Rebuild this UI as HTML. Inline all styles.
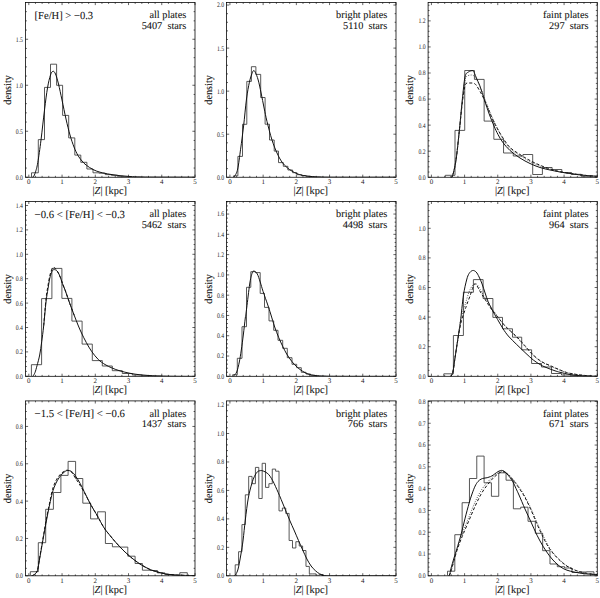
<!DOCTYPE html>
<html><head><meta charset="utf-8"><style>html,body{margin:0;padding:0;background:#fff;width:600px;height:598px;overflow:hidden}svg{display:block}text{font-family:"Liberation Serif",serif;text-rendering:geometricPrecision}</style></head><body>
<svg width="600" height="598" viewBox="0 0 600 598">
<rect width="600" height="598" fill="#fff"/>
<path d="M28.82 177.25v-2.6M28.82 2.5v2.6M35.47 177.25v-1.4M35.47 2.5v1.4M42.12 177.25v-1.4M42.12 2.5v1.4M48.76 177.25v-1.4M48.76 2.5v1.4M55.41 177.25v-1.4M55.41 2.5v1.4M62.06 177.25v-2.6M62.06 2.5v2.6M68.71 177.25v-1.4M68.71 2.5v1.4M75.35 177.25v-1.4M75.35 2.5v1.4M82 177.25v-1.4M82 2.5v1.4M88.65 177.25v-1.4M88.65 2.5v1.4M95.29 177.25v-2.6M95.29 2.5v2.6M101.94 177.25v-1.4M101.94 2.5v1.4M108.59 177.25v-1.4M108.59 2.5v1.4M115.24 177.25v-1.4M115.24 2.5v1.4M121.88 177.25v-1.4M121.88 2.5v1.4M128.53 177.25v-2.6M128.53 2.5v2.6M135.18 177.25v-1.4M135.18 2.5v1.4M141.82 177.25v-1.4M141.82 2.5v1.4M148.47 177.25v-1.4M148.47 2.5v1.4M155.12 177.25v-1.4M155.12 2.5v1.4M161.76 177.25v-2.6M161.76 2.5v2.6M168.41 177.25v-1.4M168.41 2.5v1.4M175.06 177.25v-1.4M175.06 2.5v1.4M181.71 177.25v-1.4M181.71 2.5v1.4M188.35 177.25v-1.4M188.35 2.5v1.4M195 177.25v-2.6M195 2.5v2.6M25.5 177.25h2.6M195 177.25h-2.6M25.5 168.05h1.4M195 168.05h-1.4M25.5 158.85h1.4M195 158.85h-1.4M25.5 149.65h1.4M195 149.65h-1.4M25.5 140.45h1.4M195 140.45h-1.4M25.5 131.25h2.6M195 131.25h-2.6M25.5 122.05h1.4M195 122.05h-1.4M25.5 112.85h1.4M195 112.85h-1.4M25.5 103.65h1.4M195 103.65h-1.4M25.5 94.45h1.4M195 94.45h-1.4M25.5 85.25h2.6M195 85.25h-2.6M25.5 76.05h1.4M195 76.05h-1.4M25.5 66.85h1.4M195 66.85h-1.4M25.5 57.65h1.4M195 57.65h-1.4M25.5 48.45h1.4M195 48.45h-1.4M25.5 39.25h2.6M195 39.25h-2.6M25.5 30.05h1.4M195 30.05h-1.4M25.5 20.85h1.4M195 20.85h-1.4M25.5 11.65h1.4M195 11.65h-1.4" stroke="#222" stroke-width="0.7" fill="none"/>
<rect x="25.5" y="2.5" width="169.5" height="174.75" fill="none" stroke="#000" stroke-width="0.78"/>
<g font-size="7" fill="#222" font-family="Liberation Serif, serif"><text x="28.82" y="183.95" text-anchor="middle">0</text><text x="62.06" y="183.95" text-anchor="middle">1</text><text x="95.29" y="183.95" text-anchor="middle">2</text><text x="128.53" y="183.95" text-anchor="middle">3</text><text x="161.76" y="183.95" text-anchor="middle">4</text><text x="195" y="183.95" text-anchor="middle">5</text><text x="23" y="179.65" text-anchor="end" textLength="7.2" lengthAdjust="spacingAndGlyphs">0.0</text><text x="23" y="133.65" text-anchor="end" textLength="7.2" lengthAdjust="spacingAndGlyphs">0.5</text><text x="23" y="87.65" text-anchor="end" textLength="7.2" lengthAdjust="spacingAndGlyphs">1.0</text><text x="23" y="41.65" text-anchor="end" textLength="7.2" lengthAdjust="spacingAndGlyphs">1.5</text></g>
<text x="109.75" y="194.05" font-size="10.6" text-anchor="middle" fill="#111" stroke="#111" stroke-width="0.08" font-family="Liberation Serif, serif" textLength="34.5" lengthAdjust="spacingAndGlyphs">|<tspan font-style="italic">Z</tspan>| [kpc]</text>
<text transform="translate(10.8 89.88) rotate(-90)" font-size="10.6" text-anchor="middle" fill="#111" stroke="#111" stroke-width="0.08" font-family="Liberation Serif, serif" textLength="29.6" lengthAdjust="spacingAndGlyphs">density</text>
<text x="34.6" y="19" font-size="10.8" fill="#111" stroke="#111" stroke-width="0.08" font-family="Liberation Serif, serif" textLength="58.5" lengthAdjust="spacingAndGlyphs">[Fe/H] &gt; −0.3</text>
<text x="186.3" y="18.1" font-size="10.3" text-anchor="end" fill="#111" stroke="#111" stroke-width="0.08" font-family="Liberation Serif, serif">all plates</text>
<text x="186.3" y="28.8" font-size="10.3" text-anchor="end" fill="#111" stroke="#111" stroke-width="0.08" font-family="Liberation Serif, serif" xml:space="preserve">5407  stars</text>
<clipPath id="c00"><rect x="25.5" y="2.5" width="169.5" height="174.75"/></clipPath>
<g clip-path="url(#c00)"><path d="M31.5 177.25V172.8H38.3V139.6H44.5V87.4H50.5V64.2H56.6V85.3H62.6V115.4H68.7V137.9H74.8V155.1H80.8V162.3H86.9V169H93V172.8H99.1V173.2H105.2V174.6H111.3V175.3H117.4V176.3H123.5V176.8H129.6V177.25" stroke="#3a3a3a" stroke-width="0.85" fill="none"/><path d="M32 177.2C32.23 177.13 32.82 177.67 33.4 176.8C33.98 175.93 34.77 174.38 35.5 172C36.23 169.62 36.88 167.83 37.8 162.5C38.72 157.17 39.88 148.75 41 140C42.12 131.25 43.42 118.67 44.5 110C45.58 101.33 46.5 93.83 47.5 88C48.5 82.17 49.58 77.78 50.5 75C51.42 72.22 52.17 71.47 53 71.3C53.83 71.13 54.58 71.88 55.5 74C56.42 76.12 57.42 79.67 58.5 84C59.58 88.33 60.75 94.17 62 100C63.25 105.83 64.67 113.17 66 119C67.33 124.83 68.67 130.33 70 135C71.33 139.67 72.67 143.58 74 147C75.33 150.42 76.67 153.17 78 155.5C79.33 157.83 80.62 159.38 82 161C83.38 162.62 84.47 163.78 86.3 165.2C88.13 166.62 90.72 168.33 93 169.5C95.28 170.67 97.17 171.4 100 172.2C102.83 173 106.67 173.72 110 174.3C113.33 174.88 116.67 175.33 120 175.7C123.33 176.07 126.67 176.3 130 176.5C133.33 176.7 135.83 176.8 140 176.9C144.17 177 146 177.05 155 177.1C164 177.15 187.5 177.18 194 177.2" stroke="#111" stroke-width="1.0" fill="none"/></g>
<path d="M229.92 177.25v-2.6M229.92 2.5v2.6M236.56 177.25v-1.4M236.56 2.5v1.4M243.21 177.25v-1.4M243.21 2.5v1.4M249.85 177.25v-1.4M249.85 2.5v1.4M256.49 177.25v-1.4M256.49 2.5v1.4M263.14 177.25v-2.6M263.14 2.5v2.6M269.78 177.25v-1.4M269.78 2.5v1.4M276.42 177.25v-1.4M276.42 2.5v1.4M283.07 177.25v-1.4M283.07 2.5v1.4M289.71 177.25v-1.4M289.71 2.5v1.4M296.35 177.25v-2.6M296.35 2.5v2.6M303 177.25v-1.4M303 2.5v1.4M309.64 177.25v-1.4M309.64 2.5v1.4M316.28 177.25v-1.4M316.28 2.5v1.4M322.93 177.25v-1.4M322.93 2.5v1.4M329.57 177.25v-2.6M329.57 2.5v2.6M336.21 177.25v-1.4M336.21 2.5v1.4M342.85 177.25v-1.4M342.85 2.5v1.4M349.5 177.25v-1.4M349.5 2.5v1.4M356.14 177.25v-1.4M356.14 2.5v1.4M362.78 177.25v-2.6M362.78 2.5v2.6M369.43 177.25v-1.4M369.43 2.5v1.4M376.07 177.25v-1.4M376.07 2.5v1.4M382.71 177.25v-1.4M382.71 2.5v1.4M389.36 177.25v-1.4M389.36 2.5v1.4M396 177.25v-2.6M396 2.5v2.6M226.6 177.25h2.6M396 177.25h-2.6M226.6 168.64h1.4M396 168.64h-1.4M226.6 160.03h1.4M396 160.03h-1.4M226.6 151.42h1.4M396 151.42h-1.4M226.6 142.81h1.4M396 142.81h-1.4M226.6 134.2h2.6M396 134.2h-2.6M226.6 125.59h1.4M396 125.59h-1.4M226.6 116.98h1.4M396 116.98h-1.4M226.6 108.37h1.4M396 108.37h-1.4M226.6 99.76h1.4M396 99.76h-1.4M226.6 91.15h2.6M396 91.15h-2.6M226.6 82.54h1.4M396 82.54h-1.4M226.6 73.93h1.4M396 73.93h-1.4M226.6 65.32h1.4M396 65.32h-1.4M226.6 56.71h1.4M396 56.71h-1.4M226.6 48.1h2.6M396 48.1h-2.6M226.6 39.49h1.4M396 39.49h-1.4M226.6 30.88h1.4M396 30.88h-1.4M226.6 22.27h1.4M396 22.27h-1.4M226.6 13.66h1.4M396 13.66h-1.4M226.6 5.05h2.6M396 5.05h-2.6" stroke="#222" stroke-width="0.7" fill="none"/>
<rect x="226.6" y="2.5" width="169.4" height="174.75" fill="none" stroke="#000" stroke-width="0.78"/>
<g font-size="7" fill="#222" font-family="Liberation Serif, serif"><text x="229.92" y="183.95" text-anchor="middle">0</text><text x="263.14" y="183.95" text-anchor="middle">1</text><text x="296.35" y="183.95" text-anchor="middle">2</text><text x="329.57" y="183.95" text-anchor="middle">3</text><text x="362.78" y="183.95" text-anchor="middle">4</text><text x="396" y="183.95" text-anchor="middle">5</text><text x="224.1" y="179.65" text-anchor="end" textLength="7.2" lengthAdjust="spacingAndGlyphs">0.0</text><text x="224.1" y="136.6" text-anchor="end" textLength="7.2" lengthAdjust="spacingAndGlyphs">0.5</text><text x="224.1" y="93.55" text-anchor="end" textLength="7.2" lengthAdjust="spacingAndGlyphs">1.0</text><text x="224.1" y="50.5" text-anchor="end" textLength="7.2" lengthAdjust="spacingAndGlyphs">1.5</text><text x="224.1" y="7.45" text-anchor="end" textLength="7.2" lengthAdjust="spacingAndGlyphs">2.0</text></g>
<text x="310.8" y="194.05" font-size="10.6" text-anchor="middle" fill="#111" stroke="#111" stroke-width="0.08" font-family="Liberation Serif, serif" textLength="34.5" lengthAdjust="spacingAndGlyphs">|<tspan font-style="italic">Z</tspan>| [kpc]</text>
<text transform="translate(211.9 89.88) rotate(-90)" font-size="10.6" text-anchor="middle" fill="#111" stroke="#111" stroke-width="0.08" font-family="Liberation Serif, serif" textLength="29.6" lengthAdjust="spacingAndGlyphs">density</text>
<text x="387.3" y="18.1" font-size="10.3" text-anchor="end" fill="#111" stroke="#111" stroke-width="0.08" font-family="Liberation Serif, serif">bright plates</text>
<text x="387.3" y="28.8" font-size="10.3" text-anchor="end" fill="#111" stroke="#111" stroke-width="0.08" font-family="Liberation Serif, serif" xml:space="preserve">5110  stars</text>
<clipPath id="c01"><rect x="226.6" y="2.5" width="169.4" height="174.75"/></clipPath>
<g clip-path="url(#c01)"><path d="M233.6 177.25V175.8H237.9V156.4H242.5V124.3H246.8V81.4H251.4V66.7H255.9V74.4H260.7V97.5H265.1V124.2H269.5V140H274.2V151.1H278.5V162.6H283.3V166.3H287.9V170H292.6V172.7H296.9V174.7H301.5V175.6H306V176.3H310.5V176.8H315V177.25" stroke="#3a3a3a" stroke-width="0.85" fill="none"/><path d="M233.5 177.2C233.72 177 234.1 177.37 234.8 176C235.5 174.63 236.73 173.47 237.7 169C238.67 164.53 239.62 156.37 240.6 149.2C241.58 142.03 242.62 134.37 243.6 126C244.58 117.63 245.53 106.3 246.5 99C247.47 91.7 248.48 86.45 249.4 82.2C250.32 77.95 251.3 75.43 252 73.5C252.7 71.57 253.05 70.8 253.6 70.6C254.15 70.4 254.53 70.73 255.3 72.3C256.07 73.87 257.23 76.55 258.2 80C259.17 83.45 260.12 88.33 261.1 93C262.08 97.67 263.12 103.25 264.1 108C265.08 112.75 265.68 116.17 267 121.5C268.32 126.83 270.33 134.75 272 140C273.67 145.25 275.33 149.32 277 153C278.67 156.68 280.32 159.67 282 162.1C283.68 164.53 285.42 166.08 287.1 167.6C288.78 169.12 290.43 170.18 292.1 171.2C293.77 172.22 295.45 173.03 297.1 173.7C298.75 174.37 299.85 174.75 302 175.2C304.15 175.65 307 176.12 310 176.4C313 176.68 315.83 176.77 320 176.9C324.17 177.03 322.5 177.15 335 177.2C347.5 177.25 385 177.2 395 177.2" stroke="#111" stroke-width="1.0" fill="none"/></g>
<path d="M431.42 177.25v-2.6M431.42 2.5v2.6M438.05 177.25v-1.4M438.05 2.5v1.4M444.68 177.25v-1.4M444.68 2.5v1.4M451.32 177.25v-1.4M451.32 2.5v1.4M457.95 177.25v-1.4M457.95 2.5v1.4M464.58 177.25v-2.6M464.58 2.5v2.6M471.22 177.25v-1.4M471.22 2.5v1.4M477.85 177.25v-1.4M477.85 2.5v1.4M484.48 177.25v-1.4M484.48 2.5v1.4M491.12 177.25v-1.4M491.12 2.5v1.4M497.75 177.25v-2.6M497.75 2.5v2.6M504.38 177.25v-1.4M504.38 2.5v1.4M511.02 177.25v-1.4M511.02 2.5v1.4M517.65 177.25v-1.4M517.65 2.5v1.4M524.28 177.25v-1.4M524.28 2.5v1.4M530.92 177.25v-2.6M530.92 2.5v2.6M537.55 177.25v-1.4M537.55 2.5v1.4M544.18 177.25v-1.4M544.18 2.5v1.4M550.82 177.25v-1.4M550.82 2.5v1.4M557.45 177.25v-1.4M557.45 2.5v1.4M564.08 177.25v-2.6M564.08 2.5v2.6M570.72 177.25v-1.4M570.72 2.5v1.4M577.35 177.25v-1.4M577.35 2.5v1.4M583.98 177.25v-1.4M583.98 2.5v1.4M590.62 177.25v-1.4M590.62 2.5v1.4M597.25 177.25v-2.6M597.25 2.5v2.6M428.1 177.25h2.6M597.25 177.25h-2.6M428.1 172.04h1.4M597.25 172.04h-1.4M428.1 166.83h1.4M597.25 166.83h-1.4M428.1 161.61h1.4M597.25 161.61h-1.4M428.1 156.4h1.4M597.25 156.4h-1.4M428.1 151.19h2.6M597.25 151.19h-2.6M428.1 145.98h1.4M597.25 145.98h-1.4M428.1 140.77h1.4M597.25 140.77h-1.4M428.1 135.55h1.4M597.25 135.55h-1.4M428.1 130.34h1.4M597.25 130.34h-1.4M428.1 125.13h2.6M597.25 125.13h-2.6M428.1 119.92h1.4M597.25 119.92h-1.4M428.1 114.71h1.4M597.25 114.71h-1.4M428.1 109.49h1.4M597.25 109.49h-1.4M428.1 104.28h1.4M597.25 104.28h-1.4M428.1 99.07h2.6M597.25 99.07h-2.6M428.1 93.86h1.4M597.25 93.86h-1.4M428.1 88.65h1.4M597.25 88.65h-1.4M428.1 83.43h1.4M597.25 83.43h-1.4M428.1 78.22h1.4M597.25 78.22h-1.4M428.1 73.01h2.6M597.25 73.01h-2.6M428.1 67.8h1.4M597.25 67.8h-1.4M428.1 62.59h1.4M597.25 62.59h-1.4M428.1 57.37h1.4M597.25 57.37h-1.4M428.1 52.16h1.4M597.25 52.16h-1.4M428.1 46.95h2.6M597.25 46.95h-2.6M428.1 41.74h1.4M597.25 41.74h-1.4M428.1 36.53h1.4M597.25 36.53h-1.4M428.1 31.31h1.4M597.25 31.31h-1.4M428.1 26.1h1.4M597.25 26.1h-1.4M428.1 20.89h2.6M597.25 20.89h-2.6M428.1 15.68h1.4M597.25 15.68h-1.4M428.1 10.47h1.4M597.25 10.47h-1.4M428.1 5.25h1.4M597.25 5.25h-1.4" stroke="#222" stroke-width="0.7" fill="none"/>
<rect x="428.1" y="2.5" width="169.15" height="174.75" fill="none" stroke="#000" stroke-width="0.78"/>
<g font-size="7" fill="#222" font-family="Liberation Serif, serif"><text x="431.42" y="183.95" text-anchor="middle">0</text><text x="464.58" y="183.95" text-anchor="middle">1</text><text x="497.75" y="183.95" text-anchor="middle">2</text><text x="530.92" y="183.95" text-anchor="middle">3</text><text x="564.08" y="183.95" text-anchor="middle">4</text><text x="597.25" y="183.95" text-anchor="middle">5</text><text x="425.6" y="179.65" text-anchor="end" textLength="7.2" lengthAdjust="spacingAndGlyphs">0.0</text><text x="425.6" y="153.59" text-anchor="end" textLength="7.2" lengthAdjust="spacingAndGlyphs">0.2</text><text x="425.6" y="127.53" text-anchor="end" textLength="7.2" lengthAdjust="spacingAndGlyphs">0.4</text><text x="425.6" y="101.47" text-anchor="end" textLength="7.2" lengthAdjust="spacingAndGlyphs">0.6</text><text x="425.6" y="75.41" text-anchor="end" textLength="7.2" lengthAdjust="spacingAndGlyphs">0.8</text><text x="425.6" y="49.35" text-anchor="end" textLength="7.2" lengthAdjust="spacingAndGlyphs">1.0</text><text x="425.6" y="23.29" text-anchor="end" textLength="7.2" lengthAdjust="spacingAndGlyphs">1.2</text></g>
<text x="512.17" y="194.05" font-size="10.6" text-anchor="middle" fill="#111" stroke="#111" stroke-width="0.08" font-family="Liberation Serif, serif" textLength="34.5" lengthAdjust="spacingAndGlyphs">|<tspan font-style="italic">Z</tspan>| [kpc]</text>
<text transform="translate(413.4 89.88) rotate(-90)" font-size="10.6" text-anchor="middle" fill="#111" stroke="#111" stroke-width="0.08" font-family="Liberation Serif, serif" textLength="29.6" lengthAdjust="spacingAndGlyphs">density</text>
<text x="588.55" y="18.1" font-size="10.3" text-anchor="end" fill="#111" stroke="#111" stroke-width="0.08" font-family="Liberation Serif, serif">faint plates</text>
<text x="588.55" y="28.8" font-size="10.3" text-anchor="end" fill="#111" stroke="#111" stroke-width="0.08" font-family="Liberation Serif, serif" xml:space="preserve">297  stars</text>
<clipPath id="c02"><rect x="428.1" y="2.5" width="169.15" height="174.75"/></clipPath>
<g clip-path="url(#c02)"><path d="M445.3 177.25V175.3H455.01V130.4H464.72V70.5H474.43V79.4H484.14V121.1H493.85V139.3H503.56V153H513.27V156H522.98V154.5H532.69V174.5H542.4V167.5H552.11V169.5H561.82V172.5H571.53V174.3H581.24V176.3H590.95V177.25" stroke="#3a3a3a" stroke-width="0.85" fill="none"/><path d="M450.5 177.2C450.83 177 451.58 178.87 452.5 176C453.42 173.13 454.87 167.5 456 160C457.13 152.5 458.25 141 459.3 131C460.35 121 461.35 109 462.3 100C463.25 91 463.98 81.67 465 77C466.02 72.33 467.07 73.05 468.4 72C469.73 70.95 471.97 70.45 473 70.7C474.03 70.95 474.03 72.28 474.6 73.5C475.17 74.72 475.55 76.02 476.4 78C477.25 79.98 478.7 82.83 479.7 85.4C480.7 87.97 481.55 90.8 482.4 93.4C483.25 96 483.67 97.57 484.8 101C485.93 104.43 487.67 109.83 489.2 114C490.73 118.17 492.53 122.58 494 126C495.47 129.42 496.55 131.8 498 134.5C499.45 137.2 500.7 139.53 502.7 142.2C504.7 144.87 507.12 147.87 510 150.5C512.88 153.13 516.67 155.83 520 158C523.33 160.17 526.67 161.92 530 163.5C533.33 165.08 536.67 166.42 540 167.5C543.33 168.58 546.67 169.25 550 170C553.33 170.75 556.67 171.4 560 172C563.33 172.6 566.67 173.12 570 173.6C573.33 174.08 576.67 174.53 580 174.9C583.33 175.27 587.17 175.57 590 175.8C592.83 176.03 595.83 176.22 597 176.3" stroke="#111" stroke-width="1.0" fill="none"/><path d="M450.5 177.2C450.83 177 451.58 178.87 452.5 176C453.42 173.13 454.87 167.5 456 160C457.13 152.5 458.25 140.5 459.3 131C460.35 121.5 461.43 110.17 462.3 103C463.17 95.83 463.88 91.25 464.5 88C465.12 84.75 465.08 84.33 466 83.5C466.92 82.67 468.72 83.03 470 83C471.28 82.97 472.63 82.9 473.7 83.3C474.77 83.7 475.28 83.93 476.4 85.4C477.52 86.87 479.22 90 480.4 92.1C481.58 94.2 482.4 95.68 483.5 98C484.6 100.32 485.58 102.67 487 106C488.42 109.33 490.33 114.33 492 118C493.67 121.67 495.17 124.67 497 128C498.83 131.33 500.83 134.75 503 138C505.17 141.25 507.17 144.75 510 147.5C512.83 150.25 516.67 152.33 520 154.5C523.33 156.67 526.67 158.72 530 160.5C533.33 162.28 536.67 163.78 540 165.2C543.33 166.62 546.67 167.93 550 169C553.33 170.07 556.67 170.87 560 171.6C563.33 172.33 566.67 172.87 570 173.4C573.33 173.93 576.67 174.4 580 174.8C583.33 175.2 587.17 175.55 590 175.8C592.83 176.05 595.83 176.22 597 176.3" stroke="#111" stroke-width="1.0" fill="none" stroke-dasharray="3 2"/><path d="M450.5 177.2C450.83 177 451.58 178.87 452.5 176C453.42 173.13 454.87 167.5 456 160C457.13 152.5 458.25 141 459.3 131C460.35 121 461.38 108.17 462.3 100C463.22 91.83 464.1 85.92 464.8 82C465.5 78.08 465.35 77.67 466.5 76.5C467.65 75.33 470.37 75 471.7 75C473.03 75 473.62 75.67 474.5 76.5C475.38 77.33 476.08 78.33 477 80C477.92 81.67 479 84.17 480 86.5C481 88.83 482 91.42 483 94C484 96.58 484.83 99 486 102C487.17 105 488.5 108.42 490 112C491.5 115.58 492.88 119.08 495 123.5C497.12 127.92 500.2 134.33 502.7 138.5C505.2 142.67 507.12 145.67 510 148.5C512.88 151.33 516.67 153.33 520 155.5C523.33 157.67 526.67 159.75 530 161.5C533.33 163.25 536.67 164.67 540 166C543.33 167.33 546.67 168.53 550 169.5C553.33 170.47 556.67 171.13 560 171.8C563.33 172.47 566.67 173 570 173.5C573.33 174 576.67 174.42 580 174.8C583.33 175.18 587.17 175.55 590 175.8C592.83 176.05 595.83 176.22 597 176.3" stroke="#333" stroke-width="0.9" fill="none" stroke-dasharray="0.9 1.4"/></g>
<path d="M28.82 376.3v-2.6M28.82 201.4v2.6M35.47 376.3v-1.4M35.47 201.4v1.4M42.12 376.3v-1.4M42.12 201.4v1.4M48.76 376.3v-1.4M48.76 201.4v1.4M55.41 376.3v-1.4M55.41 201.4v1.4M62.06 376.3v-2.6M62.06 201.4v2.6M68.71 376.3v-1.4M68.71 201.4v1.4M75.35 376.3v-1.4M75.35 201.4v1.4M82 376.3v-1.4M82 201.4v1.4M88.65 376.3v-1.4M88.65 201.4v1.4M95.29 376.3v-2.6M95.29 201.4v2.6M101.94 376.3v-1.4M101.94 201.4v1.4M108.59 376.3v-1.4M108.59 201.4v1.4M115.24 376.3v-1.4M115.24 201.4v1.4M121.88 376.3v-1.4M121.88 201.4v1.4M128.53 376.3v-2.6M128.53 201.4v2.6M135.18 376.3v-1.4M135.18 201.4v1.4M141.82 376.3v-1.4M141.82 201.4v1.4M148.47 376.3v-1.4M148.47 201.4v1.4M155.12 376.3v-1.4M155.12 201.4v1.4M161.76 376.3v-2.6M161.76 201.4v2.6M168.41 376.3v-1.4M168.41 201.4v1.4M175.06 376.3v-1.4M175.06 201.4v1.4M181.71 376.3v-1.4M181.71 201.4v1.4M188.35 376.3v-1.4M188.35 201.4v1.4M195 376.3v-2.6M195 201.4v2.6M25.5 376.3h2.6M195 376.3h-2.6M25.5 371.42h1.4M195 371.42h-1.4M25.5 366.54h1.4M195 366.54h-1.4M25.5 361.66h1.4M195 361.66h-1.4M25.5 356.78h1.4M195 356.78h-1.4M25.5 351.9h2.6M195 351.9h-2.6M25.5 347.02h1.4M195 347.02h-1.4M25.5 342.14h1.4M195 342.14h-1.4M25.5 337.26h1.4M195 337.26h-1.4M25.5 332.38h1.4M195 332.38h-1.4M25.5 327.5h2.6M195 327.5h-2.6M25.5 322.62h1.4M195 322.62h-1.4M25.5 317.74h1.4M195 317.74h-1.4M25.5 312.86h1.4M195 312.86h-1.4M25.5 307.98h1.4M195 307.98h-1.4M25.5 303.1h2.6M195 303.1h-2.6M25.5 298.22h1.4M195 298.22h-1.4M25.5 293.34h1.4M195 293.34h-1.4M25.5 288.46h1.4M195 288.46h-1.4M25.5 283.58h1.4M195 283.58h-1.4M25.5 278.7h2.6M195 278.7h-2.6M25.5 273.82h1.4M195 273.82h-1.4M25.5 268.94h1.4M195 268.94h-1.4M25.5 264.06h1.4M195 264.06h-1.4M25.5 259.18h1.4M195 259.18h-1.4M25.5 254.3h2.6M195 254.3h-2.6M25.5 249.42h1.4M195 249.42h-1.4M25.5 244.54h1.4M195 244.54h-1.4M25.5 239.66h1.4M195 239.66h-1.4M25.5 234.78h1.4M195 234.78h-1.4M25.5 229.9h2.6M195 229.9h-2.6M25.5 225.02h1.4M195 225.02h-1.4M25.5 220.14h1.4M195 220.14h-1.4M25.5 215.26h1.4M195 215.26h-1.4M25.5 210.38h1.4M195 210.38h-1.4M25.5 205.5h2.6M195 205.5h-2.6" stroke="#222" stroke-width="0.7" fill="none"/>
<rect x="25.5" y="201.4" width="169.5" height="174.9" fill="none" stroke="#000" stroke-width="0.78"/>
<g font-size="7" fill="#222" font-family="Liberation Serif, serif"><text x="28.82" y="383" text-anchor="middle">0</text><text x="62.06" y="383" text-anchor="middle">1</text><text x="95.29" y="383" text-anchor="middle">2</text><text x="128.53" y="383" text-anchor="middle">3</text><text x="161.76" y="383" text-anchor="middle">4</text><text x="195" y="383" text-anchor="middle">5</text><text x="23" y="378.7" text-anchor="end" textLength="7.2" lengthAdjust="spacingAndGlyphs">0.0</text><text x="23" y="354.3" text-anchor="end" textLength="7.2" lengthAdjust="spacingAndGlyphs">0.2</text><text x="23" y="329.9" text-anchor="end" textLength="7.2" lengthAdjust="spacingAndGlyphs">0.4</text><text x="23" y="305.5" text-anchor="end" textLength="7.2" lengthAdjust="spacingAndGlyphs">0.6</text><text x="23" y="281.1" text-anchor="end" textLength="7.2" lengthAdjust="spacingAndGlyphs">0.8</text><text x="23" y="256.7" text-anchor="end" textLength="7.2" lengthAdjust="spacingAndGlyphs">1.0</text><text x="23" y="232.3" text-anchor="end" textLength="7.2" lengthAdjust="spacingAndGlyphs">1.2</text><text x="23" y="207.9" text-anchor="end" textLength="7.2" lengthAdjust="spacingAndGlyphs">1.4</text></g>
<text x="109.75" y="393.1" font-size="10.6" text-anchor="middle" fill="#111" stroke="#111" stroke-width="0.08" font-family="Liberation Serif, serif" textLength="34.5" lengthAdjust="spacingAndGlyphs">|<tspan font-style="italic">Z</tspan>| [kpc]</text>
<text transform="translate(10.8 288.85) rotate(-90)" font-size="10.6" text-anchor="middle" fill="#111" stroke="#111" stroke-width="0.08" font-family="Liberation Serif, serif" textLength="29.6" lengthAdjust="spacingAndGlyphs">density</text>
<text x="34.6" y="217.9" font-size="10.8" fill="#111" stroke="#111" stroke-width="0.08" font-family="Liberation Serif, serif" textLength="90.4" lengthAdjust="spacingAndGlyphs">−0.6 &lt; [Fe/H] &lt; −0.3</text>
<text x="186.3" y="217" font-size="10.3" text-anchor="end" fill="#111" stroke="#111" stroke-width="0.08" font-family="Liberation Serif, serif">all plates</text>
<text x="186.3" y="227.7" font-size="10.3" text-anchor="end" fill="#111" stroke="#111" stroke-width="0.08" font-family="Liberation Serif, serif" xml:space="preserve">5462  stars</text>
<clipPath id="c10"><rect x="25.5" y="201.4" width="169.5" height="174.9"/></clipPath>
<g clip-path="url(#c10)"><path d="M31.4 376.3V364.7H41.6V298.6H51.9V268.4H61.9V298.4H71.9V321.1H82.1V344.1H92.3V360.6H102.3V366H112.3V370.7H122.3V373.5H132.3V375H142.3V375.8H152.3V376.2H162.3V376.3" stroke="#3a3a3a" stroke-width="0.85" fill="none"/><path d="M32 376.4C32.17 376.35 32.5 376.75 33 376.1C33.5 375.45 34.33 374.23 35 372.5C35.67 370.77 36.22 368.62 37 365.7C37.78 362.78 38.92 359 39.7 355C40.48 351 41.03 346.58 41.7 341.7C42.37 336.82 42.98 332.32 43.7 325.7C44.42 319.08 45.28 308.15 46 302C46.72 295.85 47.38 292.68 48 288.8C48.62 284.92 49.13 281.38 49.7 278.7C50.27 276.02 50.88 274.12 51.4 272.7C51.92 271.28 52.3 270.72 52.8 270.2C53.3 269.68 53.8 269.57 54.4 269.6C55 269.63 55.73 269.83 56.4 270.4C57.07 270.97 57.73 271.83 58.4 273C59.07 274.17 59.73 275.67 60.4 277.4C61.07 279.13 61.62 281.28 62.4 283.4C63.18 285.52 64.22 287.75 65.1 290.1C65.98 292.45 66.8 294.93 67.7 297.5C68.6 300.07 69.4 302.5 70.5 305.5C71.6 308.5 73.05 312.25 74.3 315.5C75.55 318.75 76.8 322.08 78 325C79.2 327.92 80.12 330.08 81.5 333C82.88 335.92 84.6 339.42 86.3 342.5C88 345.58 89.7 348.67 91.7 351.5C93.7 354.33 96.08 357.33 98.3 359.5C100.52 361.67 102.72 363.08 105 364.5C107.28 365.92 109.5 366.93 112 368C114.5 369.07 117 370.02 120 370.9C123 371.78 126.67 372.65 130 373.3C133.33 373.95 136.67 374.42 140 374.8C143.33 375.18 146.67 375.4 150 375.6C153.33 375.8 155.83 375.88 160 376C164.17 376.12 169.17 376.23 175 376.3C180.83 376.37 191.67 376.38 195 376.4" stroke="#111" stroke-width="1.0" fill="none"/><path d="M43.7 325.7C44.08 321.25 45.28 305.7 46 299C46.72 292.3 47.33 289.5 48 285.5C48.67 281.5 49.37 277.67 50 275C50.63 272.33 51.25 270.73 51.8 269.5C52.35 268.27 52.77 267.85 53.3 267.6C53.83 267.35 54.38 267.52 55 268C55.62 268.48 56.33 269.42 57 270.5C57.67 271.58 58.37 273.17 59 274.5C59.63 275.83 60.23 277.02 60.8 278.5C61.37 279.98 61.68 281.47 62.4 283.4C63.12 285.33 64.22 287.75 65.1 290.1C65.98 292.45 66.8 294.93 67.7 297.5C68.6 300.07 69.4 302.5 70.5 305.5C71.6 308.5 73.67 313.83 74.3 315.5" stroke="#111" stroke-width="1.0" fill="none" stroke-dasharray="3 2"/></g>
<path d="M229.92 376.3v-2.6M229.92 201.4v2.6M236.56 376.3v-1.4M236.56 201.4v1.4M243.21 376.3v-1.4M243.21 201.4v1.4M249.85 376.3v-1.4M249.85 201.4v1.4M256.49 376.3v-1.4M256.49 201.4v1.4M263.14 376.3v-2.6M263.14 201.4v2.6M269.78 376.3v-1.4M269.78 201.4v1.4M276.42 376.3v-1.4M276.42 201.4v1.4M283.07 376.3v-1.4M283.07 201.4v1.4M289.71 376.3v-1.4M289.71 201.4v1.4M296.35 376.3v-2.6M296.35 201.4v2.6M303 376.3v-1.4M303 201.4v1.4M309.64 376.3v-1.4M309.64 201.4v1.4M316.28 376.3v-1.4M316.28 201.4v1.4M322.93 376.3v-1.4M322.93 201.4v1.4M329.57 376.3v-2.6M329.57 201.4v2.6M336.21 376.3v-1.4M336.21 201.4v1.4M342.85 376.3v-1.4M342.85 201.4v1.4M349.5 376.3v-1.4M349.5 201.4v1.4M356.14 376.3v-1.4M356.14 201.4v1.4M362.78 376.3v-2.6M362.78 201.4v2.6M369.43 376.3v-1.4M369.43 201.4v1.4M376.07 376.3v-1.4M376.07 201.4v1.4M382.71 376.3v-1.4M382.71 201.4v1.4M389.36 376.3v-1.4M389.36 201.4v1.4M396 376.3v-2.6M396 201.4v2.6M226.6 376.3h2.6M396 376.3h-2.6M226.6 372.24h1.4M396 372.24h-1.4M226.6 368.19h1.4M396 368.19h-1.4M226.6 364.13h1.4M396 364.13h-1.4M226.6 360.08h1.4M396 360.08h-1.4M226.6 356.02h2.6M396 356.02h-2.6M226.6 351.96h1.4M396 351.96h-1.4M226.6 347.91h1.4M396 347.91h-1.4M226.6 343.85h1.4M396 343.85h-1.4M226.6 339.8h1.4M396 339.8h-1.4M226.6 335.74h2.6M396 335.74h-2.6M226.6 331.68h1.4M396 331.68h-1.4M226.6 327.63h1.4M396 327.63h-1.4M226.6 323.57h1.4M396 323.57h-1.4M226.6 319.52h1.4M396 319.52h-1.4M226.6 315.46h2.6M396 315.46h-2.6M226.6 311.4h1.4M396 311.4h-1.4M226.6 307.35h1.4M396 307.35h-1.4M226.6 303.29h1.4M396 303.29h-1.4M226.6 299.24h1.4M396 299.24h-1.4M226.6 295.18h2.6M396 295.18h-2.6M226.6 291.12h1.4M396 291.12h-1.4M226.6 287.07h1.4M396 287.07h-1.4M226.6 283.01h1.4M396 283.01h-1.4M226.6 278.96h1.4M396 278.96h-1.4M226.6 274.9h2.6M396 274.9h-2.6M226.6 270.84h1.4M396 270.84h-1.4M226.6 266.79h1.4M396 266.79h-1.4M226.6 262.73h1.4M396 262.73h-1.4M226.6 258.68h1.4M396 258.68h-1.4M226.6 254.62h2.6M396 254.62h-2.6M226.6 250.56h1.4M396 250.56h-1.4M226.6 246.51h1.4M396 246.51h-1.4M226.6 242.45h1.4M396 242.45h-1.4M226.6 238.4h1.4M396 238.4h-1.4M226.6 234.34h2.6M396 234.34h-2.6M226.6 230.28h1.4M396 230.28h-1.4M226.6 226.23h1.4M396 226.23h-1.4M226.6 222.17h1.4M396 222.17h-1.4M226.6 218.12h1.4M396 218.12h-1.4M226.6 214.06h2.6M396 214.06h-2.6M226.6 210h1.4M396 210h-1.4M226.6 205.95h1.4M396 205.95h-1.4M226.6 201.89h1.4M396 201.89h-1.4" stroke="#222" stroke-width="0.7" fill="none"/>
<rect x="226.6" y="201.4" width="169.4" height="174.9" fill="none" stroke="#000" stroke-width="0.78"/>
<g font-size="7" fill="#222" font-family="Liberation Serif, serif"><text x="229.92" y="383" text-anchor="middle">0</text><text x="263.14" y="383" text-anchor="middle">1</text><text x="296.35" y="383" text-anchor="middle">2</text><text x="329.57" y="383" text-anchor="middle">3</text><text x="362.78" y="383" text-anchor="middle">4</text><text x="396" y="383" text-anchor="middle">5</text><text x="224.1" y="378.7" text-anchor="end" textLength="7.2" lengthAdjust="spacingAndGlyphs">0.0</text><text x="224.1" y="358.42" text-anchor="end" textLength="7.2" lengthAdjust="spacingAndGlyphs">0.2</text><text x="224.1" y="338.14" text-anchor="end" textLength="7.2" lengthAdjust="spacingAndGlyphs">0.4</text><text x="224.1" y="317.86" text-anchor="end" textLength="7.2" lengthAdjust="spacingAndGlyphs">0.6</text><text x="224.1" y="297.58" text-anchor="end" textLength="7.2" lengthAdjust="spacingAndGlyphs">0.8</text><text x="224.1" y="277.3" text-anchor="end" textLength="7.2" lengthAdjust="spacingAndGlyphs">1.0</text><text x="224.1" y="257.02" text-anchor="end" textLength="7.2" lengthAdjust="spacingAndGlyphs">1.2</text><text x="224.1" y="236.74" text-anchor="end" textLength="7.2" lengthAdjust="spacingAndGlyphs">1.4</text><text x="224.1" y="216.46" text-anchor="end" textLength="7.2" lengthAdjust="spacingAndGlyphs">1.6</text></g>
<text x="310.8" y="393.1" font-size="10.6" text-anchor="middle" fill="#111" stroke="#111" stroke-width="0.08" font-family="Liberation Serif, serif" textLength="34.5" lengthAdjust="spacingAndGlyphs">|<tspan font-style="italic">Z</tspan>| [kpc]</text>
<text transform="translate(211.9 288.85) rotate(-90)" font-size="10.6" text-anchor="middle" fill="#111" stroke="#111" stroke-width="0.08" font-family="Liberation Serif, serif" textLength="29.6" lengthAdjust="spacingAndGlyphs">density</text>
<text x="387.3" y="217" font-size="10.3" text-anchor="end" fill="#111" stroke="#111" stroke-width="0.08" font-family="Liberation Serif, serif">bright plates</text>
<text x="387.3" y="227.7" font-size="10.3" text-anchor="end" fill="#111" stroke="#111" stroke-width="0.08" font-family="Liberation Serif, serif" xml:space="preserve">4498  stars</text>
<clipPath id="c11"><rect x="226.6" y="201.4" width="169.4" height="174.9"/></clipPath>
<g clip-path="url(#c11)"><path d="M232.7 376.3V374.7H237.3V358.3H242V326.7H246.5V287.3H250.8V271.7H255.5V272.6H260.2V293.4H264.5V307.4H269V320.9H273.7V330.3H278V340.3H282.7V348.3H287.3V357.7H292V364.3H296.7V367.7H301.3V372.3H306V374H310.5V375.3H315V376H319.5V376.3" stroke="#3a3a3a" stroke-width="0.85" fill="none"/><path d="M232.5 376.4C232.63 376.37 232.6 376.93 233.3 376.2C234 375.47 235.7 374.37 236.7 372C237.7 369.63 238.53 365.67 239.3 362C240.07 358.33 240.63 354.5 241.3 350C241.97 345.5 242.63 340.33 243.3 335C243.97 329.67 244.73 322.5 245.3 318C245.87 313.5 245.97 313.67 246.7 308C247.43 302.33 248.82 289.75 249.7 284C250.58 278.25 251.28 275.65 252 273.5C252.72 271.35 253.12 271.02 254 271.1C254.88 271.18 256.27 272.18 257.3 274C258.33 275.82 259.23 279.08 260.2 282C261.17 284.92 261.83 287.67 263.1 291.5C264.37 295.33 266.53 301.25 267.8 305C269.07 308.75 269.55 310.33 270.7 314C271.85 317.67 273.37 323.08 274.7 327C276.03 330.92 277.37 334.28 278.7 337.5C280.03 340.72 281.37 343.55 282.7 346.3C284.03 349.05 285.15 351.43 286.7 354C288.25 356.57 290.23 359.48 292 361.7C293.77 363.92 295.52 365.7 297.3 367.3C299.08 368.9 300.92 370.18 302.7 371.3C304.48 372.42 305.95 373.3 308 374C310.05 374.7 312.17 375.15 315 375.5C317.83 375.85 320.83 375.97 325 376.1C329.17 376.23 328.33 376.25 340 376.3C351.67 376.35 385.83 376.38 395 376.4" stroke="#111" stroke-width="1.0" fill="none"/></g>
<path d="M431.42 376.3v-2.6M431.42 201.4v2.6M438.05 376.3v-1.4M438.05 201.4v1.4M444.68 376.3v-1.4M444.68 201.4v1.4M451.32 376.3v-1.4M451.32 201.4v1.4M457.95 376.3v-1.4M457.95 201.4v1.4M464.58 376.3v-2.6M464.58 201.4v2.6M471.22 376.3v-1.4M471.22 201.4v1.4M477.85 376.3v-1.4M477.85 201.4v1.4M484.48 376.3v-1.4M484.48 201.4v1.4M491.12 376.3v-1.4M491.12 201.4v1.4M497.75 376.3v-2.6M497.75 201.4v2.6M504.38 376.3v-1.4M504.38 201.4v1.4M511.02 376.3v-1.4M511.02 201.4v1.4M517.65 376.3v-1.4M517.65 201.4v1.4M524.28 376.3v-1.4M524.28 201.4v1.4M530.92 376.3v-2.6M530.92 201.4v2.6M537.55 376.3v-1.4M537.55 201.4v1.4M544.18 376.3v-1.4M544.18 201.4v1.4M550.82 376.3v-1.4M550.82 201.4v1.4M557.45 376.3v-1.4M557.45 201.4v1.4M564.08 376.3v-2.6M564.08 201.4v2.6M570.72 376.3v-1.4M570.72 201.4v1.4M577.35 376.3v-1.4M577.35 201.4v1.4M583.98 376.3v-1.4M583.98 201.4v1.4M590.62 376.3v-1.4M590.62 201.4v1.4M597.25 376.3v-2.6M597.25 201.4v2.6M428.1 376.3h2.6M597.25 376.3h-2.6M428.1 370.38h1.4M597.25 370.38h-1.4M428.1 364.46h1.4M597.25 364.46h-1.4M428.1 358.54h1.4M597.25 358.54h-1.4M428.1 352.62h1.4M597.25 352.62h-1.4M428.1 346.7h2.6M597.25 346.7h-2.6M428.1 340.78h1.4M597.25 340.78h-1.4M428.1 334.86h1.4M597.25 334.86h-1.4M428.1 328.94h1.4M597.25 328.94h-1.4M428.1 323.02h1.4M597.25 323.02h-1.4M428.1 317.1h2.6M597.25 317.1h-2.6M428.1 311.18h1.4M597.25 311.18h-1.4M428.1 305.26h1.4M597.25 305.26h-1.4M428.1 299.34h1.4M597.25 299.34h-1.4M428.1 293.42h1.4M597.25 293.42h-1.4M428.1 287.5h2.6M597.25 287.5h-2.6M428.1 281.58h1.4M597.25 281.58h-1.4M428.1 275.66h1.4M597.25 275.66h-1.4M428.1 269.74h1.4M597.25 269.74h-1.4M428.1 263.82h1.4M597.25 263.82h-1.4M428.1 257.9h2.6M597.25 257.9h-2.6M428.1 251.98h1.4M597.25 251.98h-1.4M428.1 246.06h1.4M597.25 246.06h-1.4M428.1 240.14h1.4M597.25 240.14h-1.4M428.1 234.22h1.4M597.25 234.22h-1.4M428.1 228.3h2.6M597.25 228.3h-2.6M428.1 222.38h1.4M597.25 222.38h-1.4M428.1 216.46h1.4M597.25 216.46h-1.4M428.1 210.54h1.4M597.25 210.54h-1.4M428.1 204.62h1.4M597.25 204.62h-1.4" stroke="#222" stroke-width="0.7" fill="none"/>
<rect x="428.1" y="201.4" width="169.15" height="174.9" fill="none" stroke="#000" stroke-width="0.78"/>
<g font-size="7" fill="#222" font-family="Liberation Serif, serif"><text x="431.42" y="383" text-anchor="middle">0</text><text x="464.58" y="383" text-anchor="middle">1</text><text x="497.75" y="383" text-anchor="middle">2</text><text x="530.92" y="383" text-anchor="middle">3</text><text x="564.08" y="383" text-anchor="middle">4</text><text x="597.25" y="383" text-anchor="middle">5</text><text x="425.6" y="378.7" text-anchor="end" textLength="7.2" lengthAdjust="spacingAndGlyphs">0.0</text><text x="425.6" y="349.1" text-anchor="end" textLength="7.2" lengthAdjust="spacingAndGlyphs">0.2</text><text x="425.6" y="319.5" text-anchor="end" textLength="7.2" lengthAdjust="spacingAndGlyphs">0.4</text><text x="425.6" y="289.9" text-anchor="end" textLength="7.2" lengthAdjust="spacingAndGlyphs">0.6</text><text x="425.6" y="260.3" text-anchor="end" textLength="7.2" lengthAdjust="spacingAndGlyphs">0.8</text><text x="425.6" y="230.7" text-anchor="end" textLength="7.2" lengthAdjust="spacingAndGlyphs">1.0</text></g>
<text x="512.17" y="393.1" font-size="10.6" text-anchor="middle" fill="#111" stroke="#111" stroke-width="0.08" font-family="Liberation Serif, serif" textLength="34.5" lengthAdjust="spacingAndGlyphs">|<tspan font-style="italic">Z</tspan>| [kpc]</text>
<text transform="translate(413.4 288.85) rotate(-90)" font-size="10.6" text-anchor="middle" fill="#111" stroke="#111" stroke-width="0.08" font-family="Liberation Serif, serif" textLength="29.6" lengthAdjust="spacingAndGlyphs">density</text>
<text x="588.55" y="217" font-size="10.3" text-anchor="end" fill="#111" stroke="#111" stroke-width="0.08" font-family="Liberation Serif, serif">faint plates</text>
<text x="588.55" y="227.7" font-size="10.3" text-anchor="end" fill="#111" stroke="#111" stroke-width="0.08" font-family="Liberation Serif, serif" xml:space="preserve">964  stars</text>
<clipPath id="c12"><rect x="428.1" y="201.4" width="169.15" height="174.9"/></clipPath>
<g clip-path="url(#c12)"><path d="M443.8 376.3V373.8H453.4V335.5H463.4V292.3H473.4V279.6H483.1V298.5H492.9V317.4H502.5V328.8H512.5V337.2H521.7V349.8H531.6V363.5H541.5V367H551.5V373.5H561.5V375H571.5V375.4H581.5V376H591.5V376.3" stroke="#3a3a3a" stroke-width="0.85" fill="none"/><path d="M450.1 376.4C450.33 376.25 450.98 376.52 451.5 375.5C452.02 374.48 452.67 372.88 453.2 370.3C453.73 367.72 454.2 363.38 454.7 360C455.2 356.62 455.7 353.33 456.2 350C456.7 346.67 457.2 343.33 457.7 340C458.2 336.67 458.73 333.17 459.2 330C459.67 326.83 459.78 326.83 460.5 321C461.22 315.17 462.48 301.83 463.5 295C464.52 288.17 465.67 283.58 466.6 280C467.53 276.42 468.1 275.08 469.1 273.5C470.1 271.92 471.43 270.75 472.6 270.5C473.77 270.25 475.02 270.92 476.1 272C477.18 273.08 478.1 275 479.1 277C480.1 279 481.1 281.33 482.1 284C483.1 286.67 484.1 290.08 485.1 293C486.1 295.92 486.92 298.67 488.1 301.5C489.28 304.33 490.62 307 492.2 310C493.78 313 495.82 316.42 497.6 319.5C499.38 322.58 501.12 325.75 502.9 328.5C504.68 331.25 506 333.33 508.3 336C510.6 338.67 513.92 341.75 516.7 344.5C519.48 347.25 522.23 349.92 525 352.5C527.77 355.08 530.8 358 533.3 360C535.8 362 538.05 363.33 540 364.5C541.95 365.67 543.33 366.25 545 367C546.67 367.75 548.33 368.37 550 369C551.67 369.63 553.33 370.25 555 370.8C556.67 371.35 557.5 371.68 560 372.3C562.5 372.92 566.67 373.93 570 374.5C573.33 375.07 576.67 375.42 580 375.7C583.33 375.98 587.17 376.08 590 376.2C592.83 376.32 595.83 376.37 597 376.4" stroke="#111" stroke-width="1.0" fill="none"/><path d="M450.1 376.4C450.33 376.25 450.98 376.48 451.5 375.5C452.02 374.52 452.67 373.08 453.2 370.5C453.73 367.92 454.2 363.42 454.7 360C455.2 356.58 455.7 353.25 456.2 350C456.7 346.75 457.2 343.58 457.7 340.5C458.2 337.42 458.57 334.83 459.2 331.5C459.83 328.17 460.53 324.08 461.5 320.5C462.47 316.92 464.08 312.75 465 310C465.92 307.25 466.17 306.33 467 304C467.83 301.67 469.08 298.58 470 296C470.92 293.42 471.73 290.47 472.5 288.5C473.27 286.53 473.93 284.78 474.6 284.2C475.27 283.62 475.77 284.12 476.5 285C477.23 285.88 478.07 287.87 479 289.5C479.93 291.13 480.92 292.88 482.1 294.8C483.28 296.72 484.75 298.88 486.1 301C487.45 303.12 488.38 305 490.2 307.5C492.02 310 494.53 312.95 497 316C499.47 319.05 501.72 322.35 505 325.8C508.28 329.25 513.37 333.37 516.7 336.7C520.03 340.03 522.23 342.75 525 345.8C527.77 348.85 530.52 352.35 533.3 355C536.08 357.65 538.92 359.95 541.7 361.7C544.48 363.45 547.23 364.25 550 365.5C552.77 366.75 555.52 368.03 558.3 369.2C561.08 370.37 563.92 371.67 566.7 372.5C569.48 373.33 572.23 373.73 575 374.2C577.77 374.67 580.63 375 583.3 375.3C585.97 375.6 588.72 375.83 591 376C593.28 376.17 596 376.25 597 376.3" stroke="#111" stroke-width="1.0" fill="none" stroke-dasharray="3 2"/><path d="M450.1 376.4C450.33 376.25 450.98 376.52 451.5 375.5C452.02 374.48 452.67 372.92 453.2 370.3C453.73 367.68 454.2 363.22 454.7 359.8C455.2 356.38 455.7 353.1 456.2 349.8C456.7 346.5 457.2 343.3 457.7 340C458.2 336.7 458.65 333.58 459.2 330C459.75 326.42 460.03 322.67 461 318.5C461.97 314.33 463.67 309.42 465 305C466.33 300.58 467.75 295.25 469 292C470.25 288.75 471.5 286.92 472.5 285.5C473.5 284.08 474.17 283.58 475 283.5C475.83 283.42 476.67 284.05 477.5 285C478.33 285.95 479.08 287.62 480 289.2C480.92 290.78 481.83 292.57 483 294.5C484.17 296.43 485.5 298.47 487 300.8C488.5 303.13 490.17 305.8 492 308.5C493.83 311.2 495.83 314.08 498 317C500.17 319.92 501.88 322.58 505 326C508.12 329.42 513.37 334.08 516.7 337.5C520.03 340.92 522.23 343.5 525 346.5C527.77 349.5 530.52 352.92 533.3 355.5C536.08 358.08 538.92 360.25 541.7 362C544.48 363.75 547.23 364.75 550 366C552.77 367.25 555.52 368.4 558.3 369.5C561.08 370.6 563.92 371.8 566.7 372.6C569.48 373.4 572.23 373.83 575 374.3C577.77 374.77 580.63 375.12 583.3 375.4C585.97 375.68 588.72 375.85 591 376C593.28 376.15 596 376.25 597 376.3" stroke="#333" stroke-width="0.9" fill="none" stroke-dasharray="0.9 1.4"/></g>
<path d="M28.82 575.8v-2.6M28.82 400.9v2.6M35.47 575.8v-1.4M35.47 400.9v1.4M42.12 575.8v-1.4M42.12 400.9v1.4M48.76 575.8v-1.4M48.76 400.9v1.4M55.41 575.8v-1.4M55.41 400.9v1.4M62.06 575.8v-2.6M62.06 400.9v2.6M68.71 575.8v-1.4M68.71 400.9v1.4M75.35 575.8v-1.4M75.35 400.9v1.4M82 575.8v-1.4M82 400.9v1.4M88.65 575.8v-1.4M88.65 400.9v1.4M95.29 575.8v-2.6M95.29 400.9v2.6M101.94 575.8v-1.4M101.94 400.9v1.4M108.59 575.8v-1.4M108.59 400.9v1.4M115.24 575.8v-1.4M115.24 400.9v1.4M121.88 575.8v-1.4M121.88 400.9v1.4M128.53 575.8v-2.6M128.53 400.9v2.6M135.18 575.8v-1.4M135.18 400.9v1.4M141.82 575.8v-1.4M141.82 400.9v1.4M148.47 575.8v-1.4M148.47 400.9v1.4M155.12 575.8v-1.4M155.12 400.9v1.4M161.76 575.8v-2.6M161.76 400.9v2.6M168.41 575.8v-1.4M168.41 400.9v1.4M175.06 575.8v-1.4M175.06 400.9v1.4M181.71 575.8v-1.4M181.71 400.9v1.4M188.35 575.8v-1.4M188.35 400.9v1.4M195 575.8v-2.6M195 400.9v2.6M25.5 575.8h2.6M195 575.8h-2.6M25.5 568.33h1.4M195 568.33h-1.4M25.5 560.86h1.4M195 560.86h-1.4M25.5 553.4h1.4M195 553.4h-1.4M25.5 545.93h1.4M195 545.93h-1.4M25.5 538.46h2.6M195 538.46h-2.6M25.5 530.99h1.4M195 530.99h-1.4M25.5 523.52h1.4M195 523.52h-1.4M25.5 516.06h1.4M195 516.06h-1.4M25.5 508.59h1.4M195 508.59h-1.4M25.5 501.12h2.6M195 501.12h-2.6M25.5 493.65h1.4M195 493.65h-1.4M25.5 486.18h1.4M195 486.18h-1.4M25.5 478.72h1.4M195 478.72h-1.4M25.5 471.25h1.4M195 471.25h-1.4M25.5 463.78h2.6M195 463.78h-2.6M25.5 456.31h1.4M195 456.31h-1.4M25.5 448.84h1.4M195 448.84h-1.4M25.5 441.38h1.4M195 441.38h-1.4M25.5 433.91h1.4M195 433.91h-1.4M25.5 426.44h2.6M195 426.44h-2.6M25.5 418.97h1.4M195 418.97h-1.4M25.5 411.5h1.4M195 411.5h-1.4M25.5 404.04h1.4M195 404.04h-1.4" stroke="#222" stroke-width="0.7" fill="none"/>
<rect x="25.5" y="400.9" width="169.5" height="174.9" fill="none" stroke="#000" stroke-width="0.78"/>
<g font-size="7" fill="#222" font-family="Liberation Serif, serif"><text x="28.82" y="582.5" text-anchor="middle">0</text><text x="62.06" y="582.5" text-anchor="middle">1</text><text x="95.29" y="582.5" text-anchor="middle">2</text><text x="128.53" y="582.5" text-anchor="middle">3</text><text x="161.76" y="582.5" text-anchor="middle">4</text><text x="195" y="582.5" text-anchor="middle">5</text><text x="23" y="578.2" text-anchor="end" textLength="7.2" lengthAdjust="spacingAndGlyphs">0.0</text><text x="23" y="540.86" text-anchor="end" textLength="7.2" lengthAdjust="spacingAndGlyphs">0.2</text><text x="23" y="503.52" text-anchor="end" textLength="7.2" lengthAdjust="spacingAndGlyphs">0.4</text><text x="23" y="466.18" text-anchor="end" textLength="7.2" lengthAdjust="spacingAndGlyphs">0.6</text><text x="23" y="428.84" text-anchor="end" textLength="7.2" lengthAdjust="spacingAndGlyphs">0.8</text></g>
<text x="109.75" y="592.6" font-size="10.6" text-anchor="middle" fill="#111" stroke="#111" stroke-width="0.08" font-family="Liberation Serif, serif" textLength="34.5" lengthAdjust="spacingAndGlyphs">|<tspan font-style="italic">Z</tspan>| [kpc]</text>
<text transform="translate(10.8 488.35) rotate(-90)" font-size="10.6" text-anchor="middle" fill="#111" stroke="#111" stroke-width="0.08" font-family="Liberation Serif, serif" textLength="29.6" lengthAdjust="spacingAndGlyphs">density</text>
<text x="34.6" y="417.4" font-size="10.8" fill="#111" stroke="#111" stroke-width="0.08" font-family="Liberation Serif, serif" textLength="90.4" lengthAdjust="spacingAndGlyphs">−1.5 &lt; [Fe/H] &lt; −0.6</text>
<text x="186.3" y="416.5" font-size="10.3" text-anchor="end" fill="#111" stroke="#111" stroke-width="0.08" font-family="Liberation Serif, serif">all plates</text>
<text x="186.3" y="427.2" font-size="10.3" text-anchor="end" fill="#111" stroke="#111" stroke-width="0.08" font-family="Liberation Serif, serif" xml:space="preserve">1437  stars</text>
<clipPath id="c20"><rect x="25.5" y="400.9" width="169.5" height="174.9"/></clipPath>
<g clip-path="url(#c20)"><path d="M30.3 575.8V571.7H38.3V542.7H45.7V509.3H53.4V492.5H60.9V475.4H68.1V461.4H75.6V478.5H82.8V503.2H90.6V518.9H97.6V511.8H105.4V543.5H112.4V546.8H119.9V547.1H127.8V556.2H135.1V563.5H142.4V570.2H150V570.5H157.4V572.9H164.9V574.5H172.4V575.6H179.8V572.7H187.3V575.8" stroke="#3a3a3a" stroke-width="0.85" fill="none"/><path d="M31.5 575.9C31.67 575.85 31.92 575.92 32.5 575.6C33.08 575.28 34.17 574.88 35 574C35.83 573.12 36.73 572.8 37.5 570.3C38.27 567.8 38.9 562.88 39.6 559C40.3 555.12 41 551 41.7 547C42.4 543 43.1 538.92 43.8 535C44.5 531.08 45.2 527.25 45.9 523.5C46.6 519.75 47.27 516.17 48 512.5C48.73 508.83 49.6 504.67 50.3 501.5C51 498.33 51.55 495.88 52.2 493.5C52.85 491.12 53.37 489.32 54.2 487.2C55.03 485.08 56.08 482.78 57.2 480.8C58.32 478.82 59.58 476.87 60.9 475.3C62.22 473.73 63.92 472.2 65.1 471.4C66.28 470.6 66.88 470.45 68 470.5C69.12 470.55 70.47 470.67 71.8 471.7C73.13 472.73 74.62 474.75 76 476.7C77.38 478.65 78.72 480.88 80.1 483.4C81.48 485.92 82.77 488.73 84.3 491.8C85.83 494.87 87.85 499.02 89.3 501.8C90.75 504.58 91.68 506.2 93 508.5C94.32 510.8 95.38 512.42 97.2 515.6C99.02 518.78 101.77 524.28 103.9 527.6C106.03 530.92 108.15 533.18 110 535.5C111.85 537.82 113.33 539.58 115 541.5C116.67 543.42 118.33 545.25 120 547C121.67 548.75 123.33 550.42 125 552C126.67 553.58 128.33 555.08 130 556.5C131.67 557.92 133.33 559.25 135 560.5C136.67 561.75 138.33 562.92 140 564C141.67 565.08 143.33 566.08 145 567C146.67 567.92 148.33 568.78 150 569.5C151.67 570.22 153.33 570.78 155 571.3C156.67 571.82 158.33 572.18 160 572.6C161.67 573.02 163.33 573.48 165 573.8C166.67 574.12 167.5 574.27 170 574.5C172.5 574.73 176 575 180 575.2C184 575.4 191.67 575.62 194 575.7" stroke="#111" stroke-width="1.0" fill="none"/><path d="M31.5 575.9C31.67 575.85 31.92 575.92 32.5 575.6C33.08 575.28 34.17 574.93 35 574C35.83 573.07 36.73 572.67 37.5 570C38.27 567.33 38.9 562 39.6 558C40.3 554 41 550.08 41.7 546C42.4 541.92 43.1 537.58 43.8 533.5C44.5 529.42 45 526.25 45.9 521.5C46.8 516.75 48.1 510.33 49.2 505C50.3 499.67 51.25 493.8 52.5 489.5C53.75 485.2 55.17 481.95 56.7 479.2C58.23 476.45 60.17 474.45 61.7 473C63.23 471.55 64.92 470.97 65.9 470.5C66.88 470.03 66.92 470.08 67.6 470.2C68.28 470.32 69.18 470.65 70 471.2C70.82 471.75 71.65 472.43 72.5 473.5C73.35 474.57 73.97 475.85 75.1 477.6C76.23 479.35 77.77 481.52 79.3 484C80.83 486.48 82.63 489.5 84.3 492.5C85.97 495.5 87.85 499.33 89.3 502C90.75 504.67 91.68 506.23 93 508.5C94.32 510.77 95.38 512.42 97.2 515.6C99.02 518.78 101.77 524.28 103.9 527.6C106.03 530.92 108.15 533.18 110 535.5C111.85 537.82 113.33 539.58 115 541.5C116.67 543.42 118.33 545.25 120 547C121.67 548.75 123.33 550.42 125 552C126.67 553.58 128.33 555.08 130 556.5C131.67 557.92 133.33 559.25 135 560.5C136.67 561.75 138.33 562.92 140 564C141.67 565.08 143.33 566.08 145 567C146.67 567.92 148.33 568.78 150 569.5C151.67 570.22 153.33 570.78 155 571.3C156.67 571.82 158.33 572.18 160 572.6C161.67 573.02 163.33 573.48 165 573.8C166.67 574.12 167.5 574.27 170 574.5C172.5 574.73 176 575 180 575.2C184 575.4 191.67 575.62 194 575.7" stroke="#111" stroke-width="1.0" fill="none" stroke-dasharray="3 2"/></g>
<path d="M229.92 575.8v-2.6M229.92 400.9v2.6M236.56 575.8v-1.4M236.56 400.9v1.4M243.21 575.8v-1.4M243.21 400.9v1.4M249.85 575.8v-1.4M249.85 400.9v1.4M256.49 575.8v-1.4M256.49 400.9v1.4M263.14 575.8v-2.6M263.14 400.9v2.6M269.78 575.8v-1.4M269.78 400.9v1.4M276.42 575.8v-1.4M276.42 400.9v1.4M283.07 575.8v-1.4M283.07 400.9v1.4M289.71 575.8v-1.4M289.71 400.9v1.4M296.35 575.8v-2.6M296.35 400.9v2.6M303 575.8v-1.4M303 400.9v1.4M309.64 575.8v-1.4M309.64 400.9v1.4M316.28 575.8v-1.4M316.28 400.9v1.4M322.93 575.8v-1.4M322.93 400.9v1.4M329.57 575.8v-2.6M329.57 400.9v2.6M336.21 575.8v-1.4M336.21 400.9v1.4M342.85 575.8v-1.4M342.85 400.9v1.4M349.5 575.8v-1.4M349.5 400.9v1.4M356.14 575.8v-1.4M356.14 400.9v1.4M362.78 575.8v-2.6M362.78 400.9v2.6M369.43 575.8v-1.4M369.43 400.9v1.4M376.07 575.8v-1.4M376.07 400.9v1.4M382.71 575.8v-1.4M382.71 400.9v1.4M389.36 575.8v-1.4M389.36 400.9v1.4M396 575.8v-2.6M396 400.9v2.6M226.6 575.8h2.6M396 575.8h-2.6M226.6 570.11h1.4M396 570.11h-1.4M226.6 564.42h1.4M396 564.42h-1.4M226.6 558.72h1.4M396 558.72h-1.4M226.6 553.03h1.4M396 553.03h-1.4M226.6 547.34h2.6M396 547.34h-2.6M226.6 541.65h1.4M396 541.65h-1.4M226.6 535.96h1.4M396 535.96h-1.4M226.6 530.26h1.4M396 530.26h-1.4M226.6 524.57h1.4M396 524.57h-1.4M226.6 518.88h2.6M396 518.88h-2.6M226.6 513.19h1.4M396 513.19h-1.4M226.6 507.5h1.4M396 507.5h-1.4M226.6 501.8h1.4M396 501.8h-1.4M226.6 496.11h1.4M396 496.11h-1.4M226.6 490.42h2.6M396 490.42h-2.6M226.6 484.73h1.4M396 484.73h-1.4M226.6 479.04h1.4M396 479.04h-1.4M226.6 473.34h1.4M396 473.34h-1.4M226.6 467.65h1.4M396 467.65h-1.4M226.6 461.96h2.6M396 461.96h-2.6M226.6 456.27h1.4M396 456.27h-1.4M226.6 450.58h1.4M396 450.58h-1.4M226.6 444.88h1.4M396 444.88h-1.4M226.6 439.19h1.4M396 439.19h-1.4M226.6 433.5h2.6M396 433.5h-2.6M226.6 427.81h1.4M396 427.81h-1.4M226.6 422.12h1.4M396 422.12h-1.4M226.6 416.42h1.4M396 416.42h-1.4M226.6 410.73h1.4M396 410.73h-1.4M226.6 405.04h2.6M396 405.04h-2.6" stroke="#222" stroke-width="0.7" fill="none"/>
<rect x="226.6" y="400.9" width="169.4" height="174.9" fill="none" stroke="#000" stroke-width="0.78"/>
<g font-size="7" fill="#222" font-family="Liberation Serif, serif"><text x="229.92" y="582.5" text-anchor="middle">0</text><text x="263.14" y="582.5" text-anchor="middle">1</text><text x="296.35" y="582.5" text-anchor="middle">2</text><text x="329.57" y="582.5" text-anchor="middle">3</text><text x="362.78" y="582.5" text-anchor="middle">4</text><text x="396" y="582.5" text-anchor="middle">5</text><text x="224.1" y="578.2" text-anchor="end" textLength="7.2" lengthAdjust="spacingAndGlyphs">0.0</text><text x="224.1" y="549.74" text-anchor="end" textLength="7.2" lengthAdjust="spacingAndGlyphs">0.2</text><text x="224.1" y="521.28" text-anchor="end" textLength="7.2" lengthAdjust="spacingAndGlyphs">0.4</text><text x="224.1" y="492.82" text-anchor="end" textLength="7.2" lengthAdjust="spacingAndGlyphs">0.6</text><text x="224.1" y="464.36" text-anchor="end" textLength="7.2" lengthAdjust="spacingAndGlyphs">0.8</text><text x="224.1" y="435.9" text-anchor="end" textLength="7.2" lengthAdjust="spacingAndGlyphs">1.0</text><text x="224.1" y="407.44" text-anchor="end" textLength="7.2" lengthAdjust="spacingAndGlyphs">1.2</text></g>
<text x="310.8" y="592.6" font-size="10.6" text-anchor="middle" fill="#111" stroke="#111" stroke-width="0.08" font-family="Liberation Serif, serif" textLength="34.5" lengthAdjust="spacingAndGlyphs">|<tspan font-style="italic">Z</tspan>| [kpc]</text>
<text transform="translate(211.9 488.35) rotate(-90)" font-size="10.6" text-anchor="middle" fill="#111" stroke="#111" stroke-width="0.08" font-family="Liberation Serif, serif" textLength="29.6" lengthAdjust="spacingAndGlyphs">density</text>
<text x="387.3" y="416.5" font-size="10.3" text-anchor="end" fill="#111" stroke="#111" stroke-width="0.08" font-family="Liberation Serif, serif">bright plates</text>
<text x="387.3" y="427.2" font-size="10.3" text-anchor="end" fill="#111" stroke="#111" stroke-width="0.08" font-family="Liberation Serif, serif" xml:space="preserve">766  stars</text>
<clipPath id="c21"><rect x="226.6" y="400.9" width="169.4" height="174.9"/></clipPath>
<g clip-path="url(#c21)"><path d="M235.2 575.8V564.8H238.57V551.7H241.94V524.6H245.31V494.8H248.68V476.4H252.05V483.7H255.42V467.4H258.79V498.5H262.16V463.3H265.53V487.4H268.9V483.7H272.27V469.1H275.64V471.2H279.01V510.9H282.38V508H285.75V513.4H289.12V540.5H292.49V548H295.86V541.7H299.23V546H302.6V550.5H305.97V566.4H309.34V573.9H312.71V573.9H316.08V575.3H319.45V574.5H322.82V575.5H326.19V575.8" stroke="#3a3a3a" stroke-width="0.85" fill="none"/><path d="M234 575.9C234.13 575.85 234.17 576.58 234.8 575.6C235.43 574.62 236.8 573.43 237.8 570C238.8 566.57 239.92 560 240.8 555C241.68 550 242.35 545.83 243.1 540C243.85 534.17 244.43 527 245.3 520C246.17 513 247.23 504 248.3 498C249.37 492 250.68 487.58 251.7 484C252.72 480.42 253.45 478.53 254.4 476.5C255.35 474.47 256.38 472.78 257.4 471.8C258.42 470.82 259.72 470.78 260.5 470.6C261.28 470.42 261.28 470.47 262.1 470.7C262.92 470.93 264.28 471.35 265.4 472C266.52 472.65 267.8 473.53 268.8 474.6C269.8 475.67 270.52 476.93 271.4 478.4C272.28 479.87 273.2 481.57 274.1 483.4C275 485.23 275.9 487.38 276.8 489.4C277.7 491.42 278.47 493.07 279.5 495.5C280.53 497.93 281.83 501.17 283 504C284.17 506.83 285.33 509.67 286.5 512.5C287.67 515.33 288.75 518.08 290 521C291.25 523.92 292.58 526.75 294 530C295.42 533.25 297.05 537.17 298.5 540.5C299.95 543.83 301.3 546.92 302.7 550C304.1 553.08 305.5 556.33 306.9 559C308.3 561.67 309.7 564.07 311.1 566C312.5 567.93 313.92 569.32 315.3 570.6C316.68 571.88 318.02 572.92 319.4 573.7C320.78 574.48 322.17 574.95 323.6 575.3C325.03 575.65 316.1 575.72 328 575.8C339.9 575.88 383.83 575.8 395 575.8" stroke="#111" stroke-width="1.0" fill="none"/></g>
<path d="M431.42 575.8v-2.6M431.42 400.9v2.6M438.05 575.8v-1.4M438.05 400.9v1.4M444.68 575.8v-1.4M444.68 400.9v1.4M451.32 575.8v-1.4M451.32 400.9v1.4M457.95 575.8v-1.4M457.95 400.9v1.4M464.58 575.8v-2.6M464.58 400.9v2.6M471.22 575.8v-1.4M471.22 400.9v1.4M477.85 575.8v-1.4M477.85 400.9v1.4M484.48 575.8v-1.4M484.48 400.9v1.4M491.12 575.8v-1.4M491.12 400.9v1.4M497.75 575.8v-2.6M497.75 400.9v2.6M504.38 575.8v-1.4M504.38 400.9v1.4M511.02 575.8v-1.4M511.02 400.9v1.4M517.65 575.8v-1.4M517.65 400.9v1.4M524.28 575.8v-1.4M524.28 400.9v1.4M530.92 575.8v-2.6M530.92 400.9v2.6M537.55 575.8v-1.4M537.55 400.9v1.4M544.18 575.8v-1.4M544.18 400.9v1.4M550.82 575.8v-1.4M550.82 400.9v1.4M557.45 575.8v-1.4M557.45 400.9v1.4M564.08 575.8v-2.6M564.08 400.9v2.6M570.72 575.8v-1.4M570.72 400.9v1.4M577.35 575.8v-1.4M577.35 400.9v1.4M583.98 575.8v-1.4M583.98 400.9v1.4M590.62 575.8v-1.4M590.62 400.9v1.4M597.25 575.8v-2.6M597.25 400.9v2.6M428.1 575.8h2.6M597.25 575.8h-2.6M428.1 571.44h1.4M597.25 571.44h-1.4M428.1 567.08h1.4M597.25 567.08h-1.4M428.1 562.73h1.4M597.25 562.73h-1.4M428.1 558.37h1.4M597.25 558.37h-1.4M428.1 554.01h2.6M597.25 554.01h-2.6M428.1 549.65h1.4M597.25 549.65h-1.4M428.1 545.29h1.4M597.25 545.29h-1.4M428.1 540.94h1.4M597.25 540.94h-1.4M428.1 536.58h1.4M597.25 536.58h-1.4M428.1 532.22h2.6M597.25 532.22h-2.6M428.1 527.86h1.4M597.25 527.86h-1.4M428.1 523.5h1.4M597.25 523.5h-1.4M428.1 519.15h1.4M597.25 519.15h-1.4M428.1 514.79h1.4M597.25 514.79h-1.4M428.1 510.43h2.6M597.25 510.43h-2.6M428.1 506.07h1.4M597.25 506.07h-1.4M428.1 501.71h1.4M597.25 501.71h-1.4M428.1 497.36h1.4M597.25 497.36h-1.4M428.1 493h1.4M597.25 493h-1.4M428.1 488.64h2.6M597.25 488.64h-2.6M428.1 484.28h1.4M597.25 484.28h-1.4M428.1 479.92h1.4M597.25 479.92h-1.4M428.1 475.57h1.4M597.25 475.57h-1.4M428.1 471.21h1.4M597.25 471.21h-1.4M428.1 466.85h2.6M597.25 466.85h-2.6M428.1 462.49h1.4M597.25 462.49h-1.4M428.1 458.13h1.4M597.25 458.13h-1.4M428.1 453.78h1.4M597.25 453.78h-1.4M428.1 449.42h1.4M597.25 449.42h-1.4M428.1 445.06h2.6M597.25 445.06h-2.6M428.1 440.7h1.4M597.25 440.7h-1.4M428.1 436.34h1.4M597.25 436.34h-1.4M428.1 431.99h1.4M597.25 431.99h-1.4M428.1 427.63h1.4M597.25 427.63h-1.4M428.1 423.27h2.6M597.25 423.27h-2.6M428.1 418.91h1.4M597.25 418.91h-1.4M428.1 414.55h1.4M597.25 414.55h-1.4M428.1 410.2h1.4M597.25 410.2h-1.4M428.1 405.84h1.4M597.25 405.84h-1.4M428.1 401.48h2.6M597.25 401.48h-2.6" stroke="#222" stroke-width="0.7" fill="none"/>
<rect x="428.1" y="400.9" width="169.15" height="174.9" fill="none" stroke="#000" stroke-width="0.78"/>
<g font-size="7" fill="#222" font-family="Liberation Serif, serif"><text x="431.42" y="582.5" text-anchor="middle">0</text><text x="464.58" y="582.5" text-anchor="middle">1</text><text x="497.75" y="582.5" text-anchor="middle">2</text><text x="530.92" y="582.5" text-anchor="middle">3</text><text x="564.08" y="582.5" text-anchor="middle">4</text><text x="597.25" y="582.5" text-anchor="middle">5</text><text x="425.6" y="578.2" text-anchor="end" textLength="7.2" lengthAdjust="spacingAndGlyphs">0.0</text><text x="425.6" y="556.41" text-anchor="end" textLength="7.2" lengthAdjust="spacingAndGlyphs">0.1</text><text x="425.6" y="534.62" text-anchor="end" textLength="7.2" lengthAdjust="spacingAndGlyphs">0.2</text><text x="425.6" y="512.83" text-anchor="end" textLength="7.2" lengthAdjust="spacingAndGlyphs">0.3</text><text x="425.6" y="491.04" text-anchor="end" textLength="7.2" lengthAdjust="spacingAndGlyphs">0.4</text><text x="425.6" y="469.25" text-anchor="end" textLength="7.2" lengthAdjust="spacingAndGlyphs">0.5</text><text x="425.6" y="447.46" text-anchor="end" textLength="7.2" lengthAdjust="spacingAndGlyphs">0.6</text><text x="425.6" y="425.67" text-anchor="end" textLength="7.2" lengthAdjust="spacingAndGlyphs">0.7</text><text x="425.6" y="403.88" text-anchor="end" textLength="7.2" lengthAdjust="spacingAndGlyphs">0.8</text></g>
<text x="512.17" y="592.6" font-size="10.6" text-anchor="middle" fill="#111" stroke="#111" stroke-width="0.08" font-family="Liberation Serif, serif" textLength="34.5" lengthAdjust="spacingAndGlyphs">|<tspan font-style="italic">Z</tspan>| [kpc]</text>
<text transform="translate(413.4 488.35) rotate(-90)" font-size="10.6" text-anchor="middle" fill="#111" stroke="#111" stroke-width="0.08" font-family="Liberation Serif, serif" textLength="29.6" lengthAdjust="spacingAndGlyphs">density</text>
<text x="588.55" y="416.5" font-size="10.3" text-anchor="end" fill="#111" stroke="#111" stroke-width="0.08" font-family="Liberation Serif, serif">faint plates</text>
<text x="588.55" y="427.2" font-size="10.3" text-anchor="end" fill="#111" stroke="#111" stroke-width="0.08" font-family="Liberation Serif, serif" xml:space="preserve">671  stars</text>
<clipPath id="c22"><rect x="428.1" y="400.9" width="169.15" height="174.9"/></clipPath>
<g clip-path="url(#c22)"><path d="M447.5 575.8V571.2H454.82V534.7H462.14V502.7H469.46V478.5H476.78V456.1H484.1V482.8H491.42V496.3H498.74V472.8H506.06V480.2H513.38V508.8H520.7V507.2H528.02V521.3H535.34V533.3H542.66V550.7H549.98V564H557.3V566.7H564.62V568H571.94V572.5H579.26V572H586.58V571.8H593.9V575H601.22V575.8" stroke="#3a3a3a" stroke-width="0.85" fill="none"/><path d="M449 575.8C449.17 575.42 449.67 574.73 450 573.5C450.33 572.27 450.33 570.98 451 568.4C451.67 565.82 453 561.33 454 558C455 554.67 455.82 552.35 457 548.4C458.18 544.45 459.75 539.33 461.1 534.3C462.45 529.27 463.77 523.38 465.1 518.2C466.43 513.02 467.95 507.23 469.1 503.2C470.25 499.17 471 496.85 472 494C473 491.15 474.1 488.18 475.1 486.1C476.1 484.02 477 482.67 478 481.5C479 480.33 480.1 479.65 481.1 479.1C482.1 478.55 482.98 478.43 484 478.2C485.02 477.97 486.12 477.97 487.2 477.7C488.28 477.43 489.5 477.03 490.5 476.6C491.5 476.17 492.2 475.77 493.2 475.1C494.2 474.43 495.5 473.28 496.5 472.6C497.5 471.92 498.37 471.37 499.2 471C500.03 470.63 500.7 470.37 501.5 470.4C502.3 470.43 503.08 470.6 504 471.2C504.92 471.8 506 472.95 507 474C508 475.05 509 476.17 510 477.5C511 478.83 512 480.17 513 482C514 483.83 515 486.33 516 488.5C517 490.67 517.5 491.58 519 495C520.5 498.42 523 504.5 525 509C527 513.5 529 517.63 531 522C533 526.37 535 531.17 537 535.2C539 539.23 541 542.87 543 546.2C545 549.53 547 552.53 549 555.2C551 557.87 553 560.2 555 562.2C557 564.2 559 565.87 561 567.2C563 568.53 564.67 569.37 567 570.2C569.33 571.03 572 571.6 575 572.2C578 572.8 581.33 573.38 585 573.8C588.67 574.22 595 574.55 597 574.7" stroke="#111" stroke-width="1.0" fill="none"/><path d="M449 575.8C449.17 575.5 449.58 575.05 450 574C450.42 572.95 450.83 571.75 451.5 569.5C452.17 567.25 453.08 563.68 454 560.5C454.92 557.32 456 553.48 457 550.4C458 547.32 458.98 544.68 460 542C461.02 539.32 461.58 537.93 463.1 534.3C464.62 530.67 467.1 524.88 469.1 520.2C471.1 515.52 473.1 510.55 475.1 506.2C477.1 501.85 479.08 497.62 481.1 494.1C483.12 490.58 485.18 487.77 487.2 485.1C489.22 482.43 491.2 480.12 493.2 478.1C495.2 476.08 497.57 474.05 499.2 473C500.83 471.95 501.7 471.72 503 471.8C504.3 471.88 505.33 472.13 507 473.5C508.67 474.87 511 477.58 513 480C515 482.42 517 485.08 519 488C521 490.92 523 493.83 525 497.5C527 501.17 529 505.58 531 510C533 514.42 535 519.5 537 524C539 528.5 541 533 543 537C545 541 547 544.92 549 548C551 551.08 553 553.25 555 555.5C557 557.75 559 559.72 561 561.5C563 563.28 564.67 564.75 567 566.2C569.33 567.65 572 569.07 575 570.2C578 571.33 581.33 572.27 585 573C588.67 573.73 595 574.33 597 574.6" stroke="#111" stroke-width="1.0" fill="none" stroke-dasharray="3 2"/><path d="M449 575.8C449.17 575.5 449.58 575.08 450 574C450.42 572.92 450.83 571.63 451.5 569.3C452.17 566.97 453.08 563.3 454 560C454.92 556.7 456 552.75 457 549.5C458 546.25 458.98 543.5 460 540.5C461.02 537.5 461.58 535.5 463.1 531.5C464.62 527.5 467.1 521.42 469.1 516.5C471.1 511.58 473.1 506.33 475.1 502C477.1 497.67 479.08 493.75 481.1 490.5C483.12 487.25 485.18 484.83 487.2 482.5C489.22 480.17 491.2 478.22 493.2 476.5C495.2 474.78 497.57 473.08 499.2 472.2C500.83 471.32 501.7 471.07 503 471.2C504.3 471.33 505.33 471.67 507 473C508.67 474.33 511 476.87 513 479.2C515 481.53 517 484.12 519 487C521 489.88 523 492.92 525 496.5C527 500.08 529 504.17 531 508.5C533 512.83 535 518 537 522.5C539 527 541 531.42 543 535.5C545 539.58 547 543.75 549 547C551 550.25 553 552.67 555 555C557 557.33 559 559.2 561 561C563 562.8 564.67 564.3 567 565.8C569.33 567.3 572 568.8 575 570C578 571.2 581.33 572.23 585 573C588.67 573.77 595 574.33 597 574.6" stroke="#333" stroke-width="0.9" fill="none" stroke-dasharray="0.9 1.4"/></g>
</svg>
</body></html>
